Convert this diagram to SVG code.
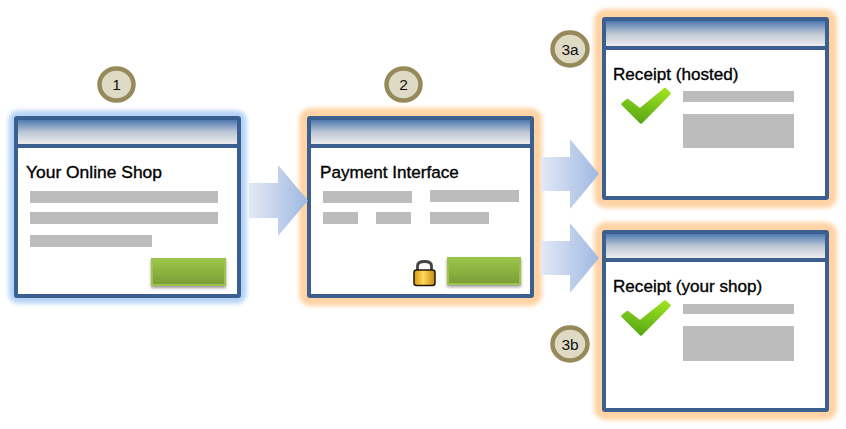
<svg xmlns="http://www.w3.org/2000/svg" width="846" height="429" viewBox="0 0 846 429">
<style>
.frame{fill:#fff;stroke:#3b5f8e;stroke-width:4;stroke-linejoin:round}
.sep{fill:#3b5f8e}
.title{fill:url(#titleGrad)}
.bar{fill:#bcbcbc}
.glowB{fill:none;stroke:#b4d3f7;stroke-width:15;filter:url(#blur2)}
.glowO{fill:none;stroke:#ffd3a4;stroke-width:20;filter:url(#blur2)}
.heading{font-family:"Liberation Sans",Arial,sans-serif;font-size:17.1px;fill:#000;stroke:#000;stroke-width:.35}
.badge{fill:#dedac4;stroke:#96895a;stroke-width:4.5}
.num{font-family:"Liberation Sans",Arial,sans-serif;font-size:15.5px;fill:#111;text-anchor:middle}
.btn{fill:url(#btnGrad);stroke:#9dc24e;stroke-width:2;filter:url(#shadow)}
.arrow{fill:url(#arrowGrad)}
.check{fill:url(#checkGrad);stroke:url(#checkGrad);stroke-width:2.5;stroke-linejoin:round}
</style>
<defs>
<linearGradient id="titleGrad" x1="0" y1="0" x2="0" y2="1"><stop offset="0" stop-color="#4f78b0"/><stop offset=".5" stop-color="#bcc6d4"/><stop offset="1" stop-color="#ececec"/></linearGradient>
<linearGradient id="btnGrad" x1="0" y1="0" x2="0" y2="1"><stop offset="0" stop-color="#9cc64a"/><stop offset="1" stop-color="#7a9c37"/></linearGradient>
<linearGradient id="arrowGrad" x1="0" y1="0" x2="1" y2="0"><stop offset="0" stop-color="#e2e9f6"/><stop offset="1" stop-color="#a0b8e2"/></linearGradient>
<linearGradient id="checkGrad" gradientUnits="objectBoundingBox" x1="0.7" y1="0" x2="0.4" y2="1"><stop offset="0" stop-color="#9be01f"/><stop offset="1" stop-color="#58a814"/></linearGradient>
<linearGradient id="lockGrad" x1="0" y1="0" x2="1" y2="0"><stop offset="0" stop-color="#d99a12"/><stop offset=".45" stop-color="#ffd95a"/><stop offset="1" stop-color="#c98a10"/></linearGradient>
<filter id="blur2" x="-20%" y="-20%" width="140%" height="140%"><feGaussianBlur stdDeviation="2.200"/></filter>
<filter id="shadow" x="-20%" y="-30%" width="140%" height="170%"><feDropShadow dx="0" dy="2" stdDeviation="1.500" flood-color="#000" flood-opacity=".4"/></filter>
</defs>
<rect width="846" height="429" fill="#fff"/>

<g id="node-shop">
<rect class="glowB" x="16" y="118" width="223" height="178" rx="2"/>
<rect class="frame" x="16" y="118" width="223" height="178" rx="1"/>
<rect class="title" x="18" y="120" width="219" height="24"/>
<rect class="sep" x="16" y="144" width="223" height="4"/>
<text class="heading" x="26" y="178" textLength="136" lengthAdjust="spacingAndGlyphs">Your Online Shop</text>
<rect class="bar" x="30" y="191" width="188" height="12"/>
<rect class="bar" x="30" y="212" width="188" height="12"/>
<rect class="bar" x="30" y="235" width="122" height="12"/>
<rect class="btn" x="152" y="259" width="73" height="26"/>
</g>

<g id="node-payment">
<rect class="glowO" x="309" y="118" width="223" height="178" rx="2"/>
<rect class="frame" x="309" y="118" width="223" height="178" rx="1"/>
<rect class="title" x="311" y="120" width="219" height="24"/>
<rect class="sep" x="309" y="144" width="223" height="4"/>
<text class="heading" x="320" y="178">Payment Interface</text>
<rect class="bar" x="323" y="191" width="89" height="12"/>
<rect class="bar" x="430" y="190" width="89" height="12"/>
<rect class="bar" x="323" y="212" width="35" height="12"/>
<rect class="bar" x="376" y="212" width="35" height="12"/>
<rect class="bar" x="430" y="212" width="59" height="12"/>
<rect class="btn" x="448" y="258" width="72" height="26"/>
<g id="lock">
<path d="M417.500 270V266Q417.500 261.500 424.500 261.500Q431.500 261.500 431.500 266V270" fill="none" stroke="#444" stroke-width="2.800"/>
<rect x="414" y="270" width="21" height="15.500" rx="2.500" fill="url(#lockGrad)" stroke="#1f180a" stroke-width="1.500"/>
</g>
</g>

<g id="node-receipt-hosted">
<rect class="glowO" x="604" y="19" width="223" height="179" rx="2"/>
<rect class="frame" x="604" y="19" width="223" height="179" rx="1"/>
<rect class="title" x="606" y="21" width="219" height="25"/>
<rect class="sep" x="604" y="46" width="223" height="4"/>
<text class="heading" x="613" y="80">Receipt (hosted)</text>
<path class="check" d="M622.500 104L627.500 100L640 109.500L665 89L669.500 93.500L641 122.500Z"/>
<rect class="bar" x="683" y="91" width="111" height="11"/>
<rect class="bar" x="683" y="114" width="111" height="34"/>
</g>

<g id="node-receipt-shop">
<rect class="glowO" x="604" y="232" width="223" height="178" rx="2"/>
<rect class="frame" x="604" y="232" width="223" height="178" rx="1"/>
<rect class="title" x="606" y="234" width="219" height="24"/>
<rect class="sep" x="604" y="258" width="223" height="4"/>
<text class="heading" x="613" y="292">Receipt (your shop)</text>
<path class="check" d="M622.500 316L627.500 312L640 321.500L665 301.500L669.500 305.500L641 334.500Z"/>
<rect class="bar" x="683" y="304" width="111" height="10"/>
<rect class="bar" x="683" y="326" width="111" height="35"/>
</g>

<g id="badge-1"><ellipse class="badge" cx="116.500" cy="84.500" rx="17" ry="16"/><text class="num" x="116.500" y="90">1</text></g>
<g id="badge-2"><ellipse class="badge" cx="403.500" cy="84.500" rx="17" ry="16"/><text class="num" x="403.500" y="90">2</text></g>
<g id="badge-3a"><ellipse class="badge" cx="570" cy="49" rx="17.500" ry="16.500"/><text class="num" x="570" y="55">3a</text></g>
<g id="badge-3b"><ellipse class="badge" cx="570" cy="344" rx="17.500" ry="16.500"/><text class="num" x="570" y="350">3b</text></g>

<g id="connectors">
<path class="arrow" d="M249 183H278V165L308 200.500L278 236V218H249Z"/>
<path class="arrow" d="M541 157H570V139L599 174L570 209V191H541Z"/>
<path class="arrow" d="M541 241H570V223L599 258L570 293V275H541Z"/>
</g>
</svg>
